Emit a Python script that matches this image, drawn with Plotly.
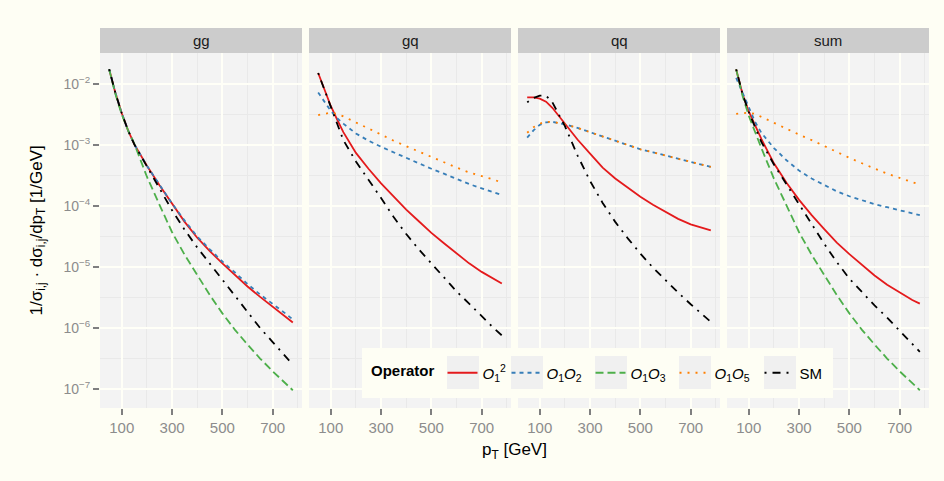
import plotly.graph_objects as go

# ---------------- data (log10 of 1/sigma dsigma/dpT) ----------------
pT = [50, 75, 100, 125, 150, 200, 250, 300, 350, 400, 450, 500, 550, 600, 650, 700, 750, 780]

panels = ["gg", "gq", "qq", "sum"]
x_ticks = [100, 300, 500, 700]
x_minor = [200, 400, 600, 800]
y_decades = [-7, -6, -5, -4, -3, -2]
y_ticktext = ["10<sup>−7</sup>", "10<sup>−6</sup>", "10<sup>−5</sup>", "10<sup>−4</sup>", "10<sup>−3</sup>", "10<sup>−2</sup>"]

series_names = ["O1sq", "O1O2", "O1O3", "O1O5", "SM"]
series_labels = ["<i>O</i><sub>1</sub><sup>2</sup>",
                 "<i>O</i><sub>1</sub><i>O</i><sub>2</sub>",
                 "<i>O</i><sub>1</sub><i>O</i><sub>3</sub>",
                 "<i>O</i><sub>1</sub><i>O</i><sub>5</sub>",
                 "SM"]

gg_O1sq = [-1.76, -2.15, -2.48, -2.76, -2.99, -3.34, -3.66, -3.97, -4.26, -4.52, -4.74, -4.94, -5.13, -5.32, -5.49, -5.65, -5.81, -5.91]
gg_O1O2 = [-1.76, -2.15, -2.48, -2.76, -2.99, -3.34, -3.65, -3.96, -4.24, -4.50, -4.71, -4.91, -5.09, -5.28, -5.45, -5.60, -5.76, -5.86]
gg_O1O3 = [-1.76, -2.17, -2.50, -2.76, -2.98, -3.52, -3.98, -4.43, -4.80, -5.14, -5.46, -5.76, -6.03, -6.27, -6.50, -6.71, -6.91, -7.02]
gg_SM   = [-1.76, -2.15, -2.48, -2.76, -2.99, -3.36, -3.71, -4.07, -4.39, -4.68, -4.94, -5.20, -5.47, -5.74, -6.00, -6.23, -6.46, -6.60]

gq_O1sq = [-1.82, -2.10, -2.36, -2.58, -2.79, -3.13, -3.39, -3.63, -3.85, -4.06, -4.25, -4.44, -4.61, -4.78, -4.94, -5.08, -5.20, -5.27]
gq_O1O2 = [-2.14, -2.30, -2.44, -2.56, -2.65, -2.81, -2.93, -3.03, -3.12, -3.22, -3.31, -3.39, -3.47, -3.56, -3.64, -3.71, -3.78, -3.82]
gq_O1O5 = [-2.51, -2.49, -2.47, -2.49, -2.53, -2.63, -2.73, -2.84, -2.93, -3.02, -3.11, -3.19, -3.28, -3.37, -3.45, -3.51, -3.57, -3.62]
gq_SM   = [-1.82, -2.10, -2.37, -2.64, -2.92, -3.27, -3.56, -3.87, -4.18, -4.46, -4.71, -4.94, -5.17, -5.40, -5.60, -5.81, -6.01, -6.12]

qq_O1sq = [-2.22, -2.22, -2.24, -2.29, -2.39, -2.66, -2.91, -3.14, -3.37, -3.55, -3.70, -3.85, -3.98, -4.10, -4.21, -4.30, -4.37, -4.40]
qq_O1O2 = [-2.88, -2.76, -2.67, -2.63, -2.62, -2.66, -2.72, -2.79, -2.86, -2.94, -3.01, -3.07, -3.12, -3.17, -3.22, -3.27, -3.33, -3.36]
qq_O1O5 = [-2.80, -2.71, -2.65, -2.62, -2.62, -2.66, -2.72, -2.79, -2.86, -2.94, -3.01, -3.07, -3.12, -3.17, -3.22, -3.27, -3.33, -3.36]
qq_SM   = [-2.30, -2.23, -2.19, -2.19, -2.30, -2.69, -3.17, -3.59, -3.95, -4.26, -4.53, -4.78, -5.01, -5.22, -5.42, -5.61, -5.79, -5.90]

sum_O1sq = [-1.76, -2.16, -2.45, -2.68, -2.90, -3.30, -3.62, -3.90, -4.15, -4.38, -4.60, -4.79, -4.97, -5.14, -5.29, -5.42, -5.54, -5.60]
sum_O1O2 = [-1.90, -2.15, -2.40, -2.62, -2.80, -3.05, -3.25, -3.42, -3.55, -3.66, -3.76, -3.84, -3.91, -3.97, -4.02, -4.07, -4.12, -4.15]
sum_O1O3 = [-1.76, -2.19, -2.52, -2.80, -3.05, -3.55, -4.00, -4.43, -4.80, -5.14, -5.46, -5.76, -6.03, -6.27, -6.50, -6.71, -6.91, -7.02]
sum_O1O5 = [-2.49, -2.48, -2.47, -2.49, -2.54, -2.63, -2.73, -2.83, -2.92, -3.02, -3.12, -3.21, -3.30, -3.39, -3.47, -3.54, -3.61, -3.65]
sum_SM   = [-1.76, -2.16, -2.46, -2.72, -2.95, -3.32, -3.65, -3.97, -4.29, -4.62, -4.92, -5.19, -5.41, -5.63, -5.83, -6.04, -6.26, -6.39]

panel_data = {
    "gg":  {"O1sq": gg_O1sq, "O1O2": gg_O1O2, "O1O3": gg_O1O3, "SM": gg_SM},
    "gq":  {"O1sq": gq_O1sq, "O1O2": gq_O1O2, "O1O5": gq_O1O5, "SM": gq_SM},
    "qq":  {"O1sq": qq_O1sq, "O1O2": qq_O1O2, "O1O5": qq_O1O5, "SM": qq_SM},
    "sum": {"O1sq": sum_O1sq, "O1O2": sum_O1O2, "O1O3": sum_O1O3, "O1O5": sum_O1O5, "SM": sum_SM},
}

# ---------------- styles ----------------
colors = {"O1sq": "#E41A1C", "O1O2": "#377EB8", "O1O3": "#4DAF4A", "O1O5": "#FF7F00", "SM": "#000000"}
dashes = {"O1sq": "solid", "O1O2": "4px,4px", "O1O3": "8px,4px", "O1O5": "2px,6px", "SM": "2px,6px,8px,6px"}
legend_widths = {"O1sq": 19, "O1O2": 39, "O1O3": 39, "O1O5": 40, "SM": 24}

W, H = 944, 481
ML, MR, MT, MB = 100, 15, 53, 73
PW = W - ML - MR          # 829
PH = H - MT - MB          # 355
panel_w = 202
panel_step = 209

BG = "#FEFEF4"
PANEL_BG = "#F3F3F3"
KEY_BG = "#F0F0F0"
MAJOR_GRID = "#FFFFF7"
MINOR_GRID = "#E9E9E9"
TICK_COL = "#8C8C8C"
FONT = "Liberation Sans, Arial, sans-serif"


def px_x(px):
    return (px - ML) / PW


def px_y(py):
    return (MT + PH - py) / PH


fig = go.Figure()
shown = set()
for i, p in enumerate(panels):
    ax = "" if i == 0 else str(i + 1)
    for k, s in enumerate(series_names):
        if s not in panel_data[p]:
            continue
        fig.add_trace(go.Scatter(
            x=pT, y=[10 ** v for v in panel_data[p][s]],
            xaxis="x" + ax, yaxis="y" + ax,
            mode="lines", line=dict(color=colors[s], width=1.8, dash=dashes[s]),
            name=series_labels[k], legendgroup=s, legendrank=k + 1,
            legendwidth=legend_widths[s],
            showlegend=(s not in shown), hoverinfo="skip"))
        shown.add(s)

layout = dict(
    width=W, height=H,
    margin=dict(l=ML, r=MR, t=MT, b=MB, pad=0),
    paper_bgcolor=BG, plot_bgcolor=PANEL_BG,
    font=dict(family=FONT, size=14, color="#1A1A1A"),
    showlegend=True,
    legend=dict(orientation="h", x=px_x(369), xanchor="left",
                y=px_y(373), yanchor="middle",
                bgcolor="rgba(0,0,0,0)", borderwidth=0,
                title=dict(text="<b>Operator</b>", side="left", font=dict(size=15, color="#000000")),
                font=dict(size=15, color="#000000"), itemwidth=30, tracegroupgap=0),
)

shapes = []
annotations = []
for i, p in enumerate(panels):
    ax = "" if i == 0 else str(i + 1)
    x0 = (i * panel_step) / PW
    x1 = (i * panel_step + panel_w) / PW
    layout["xaxis" + ax] = dict(
        domain=[x0, x1], range=[13.5, 816.5], anchor="y" + ax,
        tickmode="array", tickvals=x_ticks, ticks="outside", ticklen=6, tickwidth=1.5,
        tickcolor="#7F7F7F", tickfont=dict(size=15, color=TICK_COL),
        showgrid=True, gridcolor=MAJOR_GRID, gridwidth=2,
        minor=dict(tickmode="array", tickvals=x_minor, showgrid=True, gridcolor=MINOR_GRID, gridwidth=1, ticks=""),
        zeroline=False, showline=False)
    layout["yaxis" + ax] = dict(
        domain=[0, 1], type="log", range=[-7.311, -1.492], anchor="x" + ax,
        tickmode="array", tickvals=[10 ** d for d in y_decades], ticktext=y_ticktext,
        ticks="outside" if i == 0 else "", ticklen=6, tickwidth=1.5, tickcolor="#7F7F7F",
        showticklabels=(i == 0), tickfont=dict(size=14, color=TICK_COL),
        showgrid=True, gridcolor=MAJOR_GRID, gridwidth=2,
        minor=dict(tickmode="array", tickvals=[10 ** (d + 0.5) for d in y_decades] + [10 ** -7.5],
                   showgrid=True, gridcolor=MINOR_GRID, gridwidth=1, ticks=""),
        zeroline=False, showline=False)
    shapes.append(dict(type="rect", xref="paper", yref="paper", x0=x0, x1=x1,
                       y0=1, y1=px_y(28), fillcolor="#CCCCCC", line=dict(width=0), layer="below"))
    annotations.append(dict(text=p, xref="paper", yref="paper", x=(x0 + x1) / 2, y=px_y(40.5),
                            showarrow=False, xanchor="center", yanchor="middle",
                            font=dict(size=15, color="#1A1A1A")))

# legend box and key backgrounds (styling only)
shapes.append(dict(type="rect", xref="paper", yref="paper", x0=px_x(362), x1=px_x(833),
                   y0=px_y(398), y1=px_y(348), fillcolor=BG, line=dict(width=0), layer="above"))
for kx in [447, 511, 595, 679, 764]:
    shapes.append(dict(type="rect", xref="paper", yref="paper", x0=px_x(kx), x1=px_x(kx + 32),
                       y0=px_y(389), y1=px_y(356), fillcolor=KEY_BG, line=dict(width=0), layer="above"))

annotations.append(dict(text="1/σ<sub>i,j</sub> · dσ<sub>i,j</sub>/dp<sub>T</sub> [1/GeV]",
                        xref="paper", yref="paper", x=px_x(37), y=px_y(230.5), textangle=-90,
                        showarrow=False, xanchor="center", yanchor="middle",
                        font=dict(size=17, color="#000000")))
annotations.append(dict(text="p<sub>T</sub> [GeV]", xref="paper", yref="paper",
                        x=px_x(514), y=px_y(451), showarrow=False,
                        xanchor="center", yanchor="middle", font=dict(size=17, color="#000000")))
layout["shapes"] = shapes
layout["annotations"] = annotations

fig.update_layout(**layout)
fig.write_html("out.html")
